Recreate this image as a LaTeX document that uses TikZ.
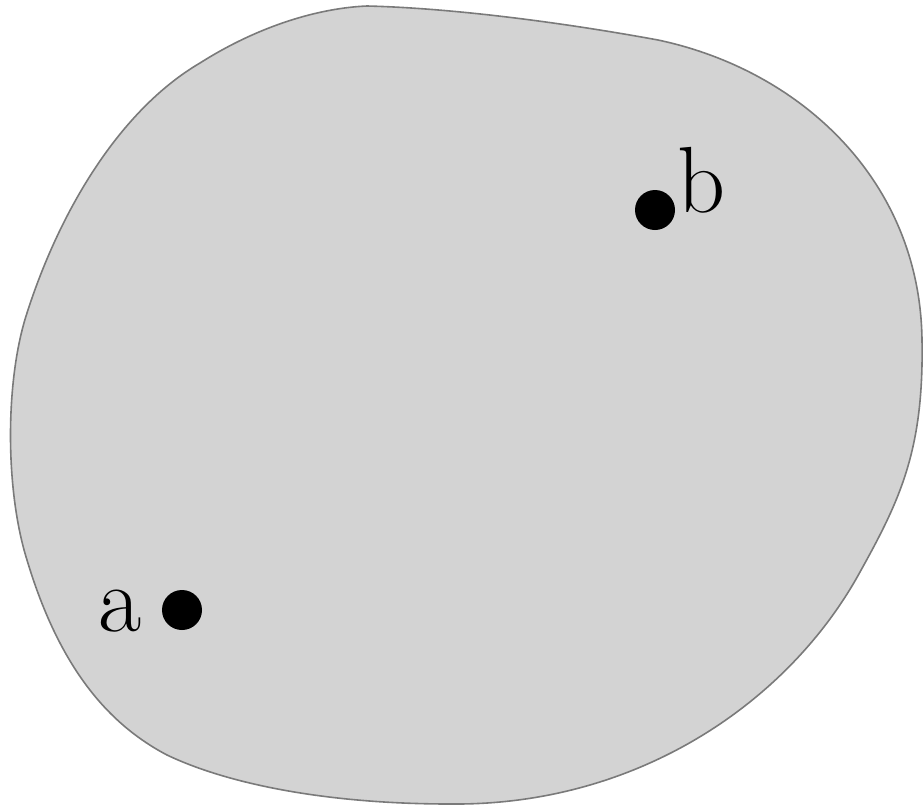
\documentclass[tikz,border=0pt]{standalone}
\begin{document}
\begin{tikzpicture}[x=1pt,y=-1pt,
  blob/.style={fill=blobfill,draw=blobline,line width=1.6pt},
  pt/.style={circle,fill=black,inner sep=0pt,minimum size=40pt},
  lbl/.style={font=\fontsize{94}{94}\selectfont,inner sep=0pt}]
\definecolor{blobfill}{HTML}{D3D3D3}
\definecolor{blobline}{HTML}{7A7A7A}
\useasboundingbox (0,0) rectangle (924,806);
\draw[blob] (367,6) .. controls (450,8) and (560,22) .. (658,40)
  .. controls (800,70) and (920,180) .. (922,340)
  .. controls (924,450) and (900,500) .. (860,572)
  .. controls (790,700) and (640,806) .. (450,804)
  .. controls (330,804) and (230,785) .. (167,755)
  .. controls (110,725) and (60,670) .. (27,560)
  .. controls (5,490) and (5,380) .. (27,313)
  .. controls (60,210) and (120,110) .. (200,63)
  .. controls (260,25) and (320,8) .. (367,6) -- cycle;
\node[pt] (a) at (182,610) {};
\node[pt] (b) at (655,210) {};
\node[lbl,anchor=base] (la) at (120,631) {a};
\node[lbl,anchor=base west] (lb) at (677,212) {b};
\end{tikzpicture}
\end{document}
